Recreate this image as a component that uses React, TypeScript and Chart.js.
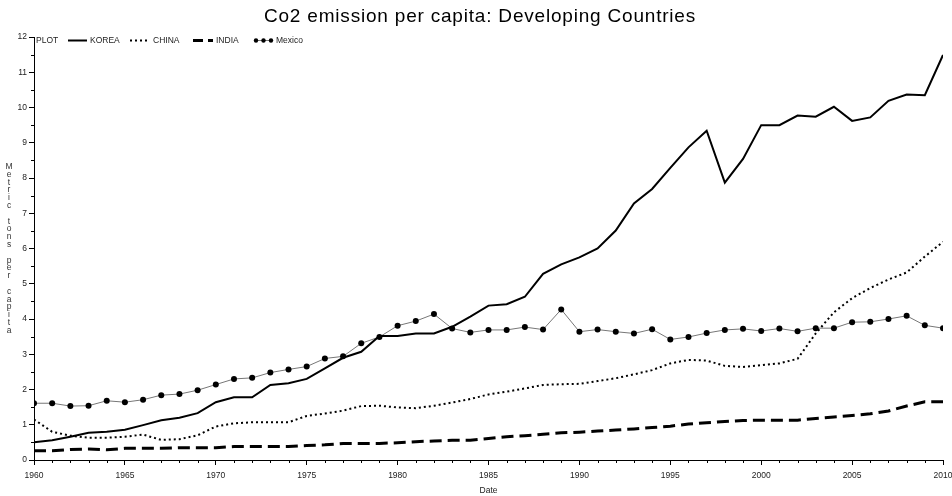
import React, { useEffect, useRef } from "react";
import { Chart, registerables } from "chart.js";

Chart.register(...registerables);

const years = [
  1960, 1961, 1962, 1963, 1964, 1965, 1966, 1967, 1968, 1969,
  1970, 1971, 1972, 1973, 1974, 1975, 1976, 1977, 1978, 1979,
  1980, 1981, 1982, 1983, 1984, 1985, 1986, 1987, 1988, 1989,
  1990, 1991, 1992, 1993, 1994, 1995, 1996, 1997, 1998, 1999,
  2000, 2001, 2002, 2003, 2004, 2005, 2006, 2007, 2008, 2009, 2010,
];

const korea = [
  0.5, 0.56, 0.66, 0.77, 0.8, 0.86, 0.99, 1.13, 1.2, 1.33,
  1.64, 1.78, 1.78, 2.13, 2.18, 2.3, 2.6, 2.9, 3.07, 3.52,
  3.52, 3.59, 3.59, 3.78, 4.07, 4.38, 4.42, 4.63, 5.28, 5.55,
  5.75, 6.0, 6.51, 7.28, 7.69, 8.29, 8.87, 9.34, 7.87, 8.54,
  9.5, 9.5, 9.77, 9.74, 10.02, 9.62, 9.72, 10.19, 10.37, 10.35, 11.49,
];

const china = [
  1.15, 0.8, 0.69, 0.63, 0.63, 0.66, 0.72, 0.57, 0.59, 0.7,
  0.95, 1.04, 1.07, 1.07, 1.07, 1.25, 1.32, 1.4, 1.53, 1.54,
  1.49, 1.47, 1.54, 1.63, 1.73, 1.86, 1.94, 2.03, 2.13, 2.15,
  2.16, 2.24, 2.32, 2.43, 2.55, 2.74, 2.84, 2.82, 2.67, 2.64,
  2.69, 2.74, 2.87, 3.59, 4.19, 4.59, 4.88, 5.12, 5.32, 5.77, 6.19,
];

const india = [
  0.26, 0.26, 0.3, 0.31, 0.29, 0.33, 0.33, 0.33, 0.35, 0.35,
  0.35, 0.38, 0.38, 0.38, 0.38, 0.41, 0.43, 0.47, 0.47, 0.47,
  0.49, 0.52, 0.54, 0.56, 0.56, 0.61, 0.66, 0.69, 0.73, 0.77,
  0.79, 0.82, 0.85, 0.88, 0.92, 0.96, 1.02, 1.06, 1.09, 1.12,
  1.13, 1.13, 1.13, 1.18, 1.22, 1.26, 1.31, 1.39, 1.53, 1.65, 1.65,
];

const mexico = [
  1.61, 1.61, 1.53, 1.54, 1.68, 1.64, 1.71, 1.84, 1.87, 1.98,
  2.14, 2.3, 2.33, 2.48, 2.57, 2.65, 2.88, 2.94, 3.31, 3.49,
  3.81, 3.94, 4.14, 3.73, 3.62, 3.69, 3.69, 3.77, 3.7, 4.27,
  3.64, 3.7, 3.64, 3.59, 3.71, 3.42, 3.49, 3.6, 3.69, 3.72,
  3.66, 3.73, 3.65, 3.74, 3.74, 3.91, 3.92, 4.0, 4.09, 3.82, 3.74,
];

const xTickStep = 5;
const yTickStep = 1;
const titleText = "Co2 emission per capita: Developing Countries";
const yTitleText = "Metric tons per capita";
const xTitleText = "Date";
const legendHeader = "PLOT";
const seriesNames = ["KOREA", "CHINA", "INDIA", "Mexico"];

const FONT = "'Liberation Sans', Arial, sans-serif";

const pts = (vals: number[]) => vals.map((v, i) => ({ x: years[i], y: v }));

const decorPlugin = {
  id: "decor",
  afterDraw(chart: any) {
    const ctx = chart.ctx as CanvasRenderingContext2D;
    const xs = chart.scales.x;
    const ys = chart.scales.y;
    const area = chart.chartArea;
    ctx.save();

    // Title
    ctx.fillStyle = "#000";
    ctx.font = `19px ${FONT}`;
    (ctx as any).letterSpacing = "0.8px";
    ctx.textAlign = "center";
    ctx.textBaseline = "alphabetic";
    ctx.fillText(titleText, 480, 22);
    (ctx as any).letterSpacing = "0px";

    // Minor ticks
    ctx.strokeStyle = "#000";
    ctx.lineWidth = 1;
    ctx.beginPath();
    for (let y = 1961; y < 2010; y++) {
      if (y % xTickStep === 0) continue;
      const px = Math.round(xs.getPixelForValue(y)) + 0.5;
      ctx.moveTo(px, area.bottom);
      ctx.lineTo(px, area.bottom + 3);
    }
    for (let v = 0.5; v < 12; v += 1) {
      const py = Math.round(ys.getPixelForValue(v)) + 0.5;
      ctx.moveTo(area.left, py);
      ctx.lineTo(area.left - 3, py);
    }
    ctx.stroke();

    // Y title, stacked letters
    ctx.fillStyle = "#333";
    ctx.font = `8.5px ${FONT}`;
    ctx.textAlign = "center";
    ctx.textBaseline = "middle";
    const chars = yTitleText.split("");
    const step = 7.8;
    const cy = (area.top + area.bottom) / 2;
    const start = cy - ((chars.length - 1) * step) / 2;
    chars.forEach((c, i) => {
      if (c !== " ") ctx.fillText(c, 9, start + i * step);
    });

    // Legend
    const ly = 40.5;
    ctx.font = `8.5px ${FONT}`;
    ctx.textAlign = "left";
    ctx.fillStyle = "#222";
    ctx.fillText(legendHeader, 36, ly);
    const items = [
      { x0: 68, x1: 87, tx: 90, dash: [], w: 2, marker: false, color: "#000" },
      { x0: 130, x1: 150, tx: 153, dash: [2, 3], w: 2, marker: false, color: "#000" },
      { x0: 193, x1: 213, tx: 216, dash: [10, 5], w: 3, marker: false, color: "#000" },
      { x0: 256, x1: 271, tx: 276, dash: [], w: 1, marker: true, color: "#777" },
    ];
    items.forEach((it, i) => {
      ctx.strokeStyle = it.color;
      ctx.lineWidth = it.w;
      ctx.setLineDash(it.dash);
      ctx.beginPath();
      ctx.moveTo(it.x0, ly);
      ctx.lineTo(it.x1, ly);
      ctx.stroke();
      ctx.setLineDash([]);
      if (it.marker) {
        ctx.fillStyle = "#000";
        [it.x0, (it.x0 + it.x1) / 2, it.x1].forEach((mx) => {
          ctx.beginPath();
          ctx.arc(mx, ly, 2.2, 0, Math.PI * 2);
          ctx.fill();
        });
      }
      ctx.fillStyle = "#222";
      ctx.fillText(seriesNames[i], it.tx, ly);
    });

    ctx.restore();
  },
};

export default function App() {
  const ref = useRef<HTMLCanvasElement | null>(null);
  useEffect(() => {
    if (!ref.current) return;
    const chart = new Chart(ref.current, {
      type: "line",
      data: {
        datasets: [
          {
            label: seriesNames[0],
            data: pts(korea),
            borderColor: "#000",
            borderWidth: 2,
            pointRadius: 0,
            tension: 0,
          },
          {
            label: seriesNames[1],
            data: pts(china),
            borderColor: "#000",
            borderWidth: 2,
            borderDash: [2, 3],
            pointRadius: 0,
            tension: 0,
          },
          {
            label: seriesNames[2],
            data: pts(india),
            borderColor: "#000",
            borderWidth: 3,
            borderDash: [12, 6],
            pointRadius: 0,
            tension: 0,
          },
          {
            label: seriesNames[3],
            data: pts(mexico),
            borderColor: "#777",
            borderWidth: 1,
            pointRadius: 3,
            pointBackgroundColor: "#000",
            pointBorderColor: "#000",
            pointBorderWidth: 0,
            tension: 0,
          },
        ],
      },
      options: {
        animation: false,
        responsive: false,
        maintainAspectRatio: false,
        layout: { padding: { top: 37, right: 9, left: 0, bottom: 0 } },
        plugins: {
          legend: { display: false },
          title: { display: false },
          tooltip: { enabled: false },
        },
        scales: {
          x: {
            type: "linear",
            min: 1960,
            max: 2010,
            afterFit: (s: any) => {
              s.height = 36;
              s.paddingLeft = 0;
              s.paddingRight = 0;
            },
            ticks: {
              stepSize: xTickStep,
              autoSkip: false,
              maxRotation: 0,
              color: "#222",
              font: { family: FONT, size: 8.5 },
              padding: 6,
              callback: (v: any) => String(v),
            },
            grid: {
              drawOnChartArea: false,
              drawTicks: true,
              tickLength: 5,
              tickColor: "#000",
            },
            border: { display: true, color: "#000", width: 1 },
            title: {
              display: true,
              text: xTitleText,
              color: "#222",
              font: { family: FONT, size: 8.5 },
              padding: { top: 2, bottom: 0 },
            },
          },
          y: {
            type: "linear",
            min: 0,
            max: 12,
            afterFit: (s: any) => {
              s.width = 34;
              s.paddingTop = 0;
              s.paddingBottom = 0;
            },
            ticks: {
              stepSize: yTickStep,
              color: "#222",
              font: { family: FONT, size: 8.5 },
              padding: 2,
            },
            grid: {
              drawOnChartArea: false,
              drawTicks: true,
              tickLength: 5,
              tickColor: "#000",
            },
            border: { display: true, color: "#000", width: 1 },
          },
        },
      },
      plugins: [decorPlugin],
    });
    return () => chart.destroy();
  }, []);

  return (
    <div style={{ position: "fixed", left: 0, top: 0, width: 952, height: 496, background: "#fff" }}>
      <canvas ref={ref} width={952} height={496} style={{ display: "block" }} />
    </div>
  );
}
